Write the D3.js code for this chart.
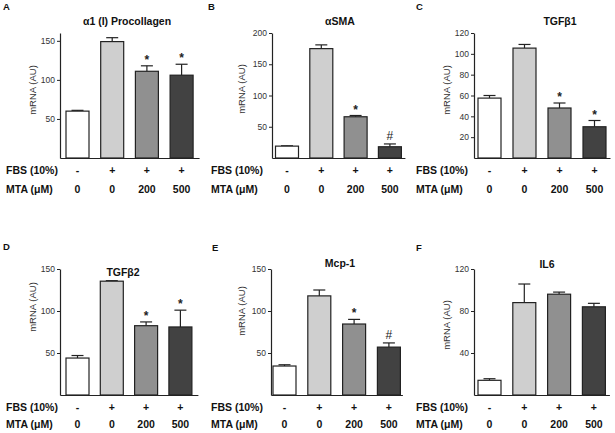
<!DOCTYPE html>
<html><head><meta charset="utf-8">
<script src="https://cdn.jsdelivr.net/npm/d3@7"></script>
<style>
html,body{margin:0;padding:0;background:#fff;}
svg{display:block;font-family:"Liberation Sans",Arial,sans-serif;}
</style></head>
<body><svg id="c" width="615" height="433"></svg>
<script>
// ---- data ----
const panelLetters = ["A","B","C","D","E","F"];
const titles = ["α1 (I) Procollagen","αSMA","TGFβ1","TGFβ2","Mcp-1","IL6"];
const groups = ["ctrl","fbs","mta200","mta500"];
const fbsLabels = ["-","+","+","+"];
const mtaLabels = ["0","0","200","500"];
const means = [
  [60,149,111,106],
  [19,175,66,18],
  [57.5,105.5,48,30],
  [44,135.5,82.5,81],
  [34.5,118,84.5,57],
  [14,88,96,84]
];
const errs = [
  [1,5,7,14],
  [0.5,6,2,4.5],
  [2.5,3.5,4.8,6],
  [3,0.6,4.5,20],
  [1.5,7,5.5,5],
  [1.5,17.7,2,3.3]
];
const sig = [
  ["","","*","*"],
  ["","","*","#"],
  ["","","*","*"],
  ["","","*","*"],
  ["","","*","#"],
  ["","","",""]
];
const yMax = [160,200,120,150,150,120];
const yTicks = [[50,100,150],[50,100,150,200],[20,40,60,80,100,120],[50,100,150],[50,100,150],[40,80,120]];
const yLabel = "mRNA (AU)";
const rowLabels = ["FBS (10%)","MTA (μM)"];
const fills = ["#ffffff","#cfcfcf","#909090","#424242"];

// ---- layout ----
const layout = [
  {x0:60, bar0:66, step:34.7, top:33, base:158, tx:127, ty:25, lx:3, ly:10, yx:33, yy:90, rx:6, fy:174, my:193},
  {x0:272, bar0:275.5, step:34.3, top:33, base:158, tx:340, ty:25, lx:208, ly:10, yx:242, yy:89, rx:211, fy:174, my:193},
  {x0:474, bar0:478, step:35, top:33, base:158, tx:560, ty:25, lx:416, ly:10, yx:447, yy:90, rx:416, fy:174, my:193},
  {x0:60, bar0:66, step:34.3, top:269, base:395, tx:123, ty:276, lx:3, ly:250, yx:33, yy:307, rx:6, fy:411, my:428},
  {x0:271, bar0:273, step:34.8, top:269, base:395, tx:340, ty:267, lx:212, ly:251, yx:242, yy:311, rx:211, fy:411, my:428},
  {x0:474, bar0:478, step:34.8, top:269, base:395, tx:547, ty:268, lx:416, ly:251, yx:447, yy:325, rx:416, fy:411, my:428}
];
const barW = 23;
const ink = "#222";

const svg = d3.select("#c");

layout.forEach((L, i) => {
  const g = svg.append("g");
  const pi = 1 - barW / L.step;
  const po = (L.bar0 - L.x0) / L.step;
  const r1 = L.x0 + L.step * (groups.length - pi + 2 * po);
  const x = d3.scaleBand().domain(groups).range([L.x0, r1]).paddingInner(pi).paddingOuter(po).align(0.5);
  const y = d3.scaleLinear().domain([0, yMax[i]]).range([L.base, L.top]);

  // bars
  const data = groups.map((k, j) => ({k, j, m: means[i][j], e: errs[i][j], s: sig[i][j]}));
  // error bars (behind bars)
  const eb = g.selectAll(".eb").data(data).join("g");
  eb.append("line")
    .attr("x1", d => x(d.k) + x.bandwidth() / 2).attr("x2", d => x(d.k) + x.bandwidth() / 2)
    .attr("y1", d => y(d.m)).attr("y2", d => y(d.m + d.e))
    .attr("stroke", ink).attr("stroke-width", 1.2);
  eb.append("line")
    .attr("x1", d => x(d.k) + x.bandwidth() / 2 - 6).attr("x2", d => x(d.k) + x.bandwidth() / 2 + 6)
    .attr("y1", d => y(d.m + d.e)).attr("y2", d => y(d.m + d.e))
    .attr("stroke", ink).attr("stroke-width", 1.2);

  g.selectAll(".bar").data(data).join("rect")
    .attr("x", d => x(d.k)).attr("width", x.bandwidth())
    .attr("y", d => y(d.m)).attr("height", d => y(0) - y(d.m))
    .attr("fill", d => fills[d.j]).attr("stroke", ink).attr("stroke-width", 1.2);

  // significance marks
  g.selectAll(".sig").data(data.filter(d => d.s)).join("text")
    .attr("x", d => x(d.k) + x.bandwidth() / 2)
    .attr("y", d => y(d.m + d.e) - (d.s === "#" ? 4 : 2))
    .attr("text-anchor", "middle")
    .attr("font-size", d => d.s === "#" ? 12 : 12)
    .attr("font-weight", d => d.s === "#" ? "normal" : "bold")
    .attr("fill", ink)
    .text(d => d.s);

  // y axis
  const ya = g.append("g").attr("transform", `translate(${L.x0},0)`)
    .call(d3.axisLeft(y).tickValues(yTicks[i]).tickSize(3).tickPadding(2).tickSizeOuter(0));
  ya.select(".domain").attr("stroke", ink).attr("stroke-width", 1.2);
  ya.selectAll(".tick line").attr("stroke", ink);
  ya.selectAll(".tick text").attr("fill", "#333").attr("font-size", 8.5)
    .attr("font-family", "'Liberation Sans', Arial, sans-serif");

  // x baseline
  g.append("g").attr("transform", `translate(0,${L.base})`)
    .call(d3.axisBottom(x).tickSize(0).tickFormat(""))
    .select(".domain").attr("stroke", ink).attr("stroke-width", 1.2);

  // y label
  g.append("text")
    .attr("transform", `translate(${L.yx},${L.yy}) rotate(-90)`)
    .attr("text-anchor", "middle").attr("dominant-baseline", "middle")
    .attr("font-size", 9.5).attr("fill", "#333").text(yLabel);

  // title
  g.append("text").attr("x", L.tx).attr("y", L.ty).attr("text-anchor", "middle")
    .attr("font-size", 10.5).attr("font-weight", "bold").attr("fill", "#111").text(titles[i]);

  // panel letter
  g.append("text").attr("x", L.lx).attr("y", L.ly)
    .attr("font-size", 9.5).attr("font-weight", "bold").attr("fill", "#111").text(panelLetters[i]);

  // row labels
  g.append("text").attr("x", L.rx).attr("y", L.fy).attr("font-size", 10.5).attr("font-weight", "bold").attr("fill", "#111").text(rowLabels[0]);
  g.append("text").attr("x", L.rx).attr("y", L.my).attr("font-size", 10.5).attr("font-weight", "bold").attr("fill", "#111").text(rowLabels[1]);

  g.selectAll(".fbs").data(data).join("text")
    .attr("x", d => x(d.k) + x.bandwidth() / 2).attr("y", L.fy)
    .attr("text-anchor", "middle").attr("font-size", 10.5).attr("font-weight", "bold").attr("fill", "#111")
    .text(d => fbsLabels[d.j]);
  g.selectAll(".mta").data(data).join("text")
    .attr("x", d => x(d.k) + x.bandwidth() / 2).attr("y", L.my)
    .attr("text-anchor", "middle").attr("font-size", 10.5).attr("font-weight", "bold").attr("fill", "#111")
    .text(d => mtaLabels[d.j]);
});
</script></body></html>
